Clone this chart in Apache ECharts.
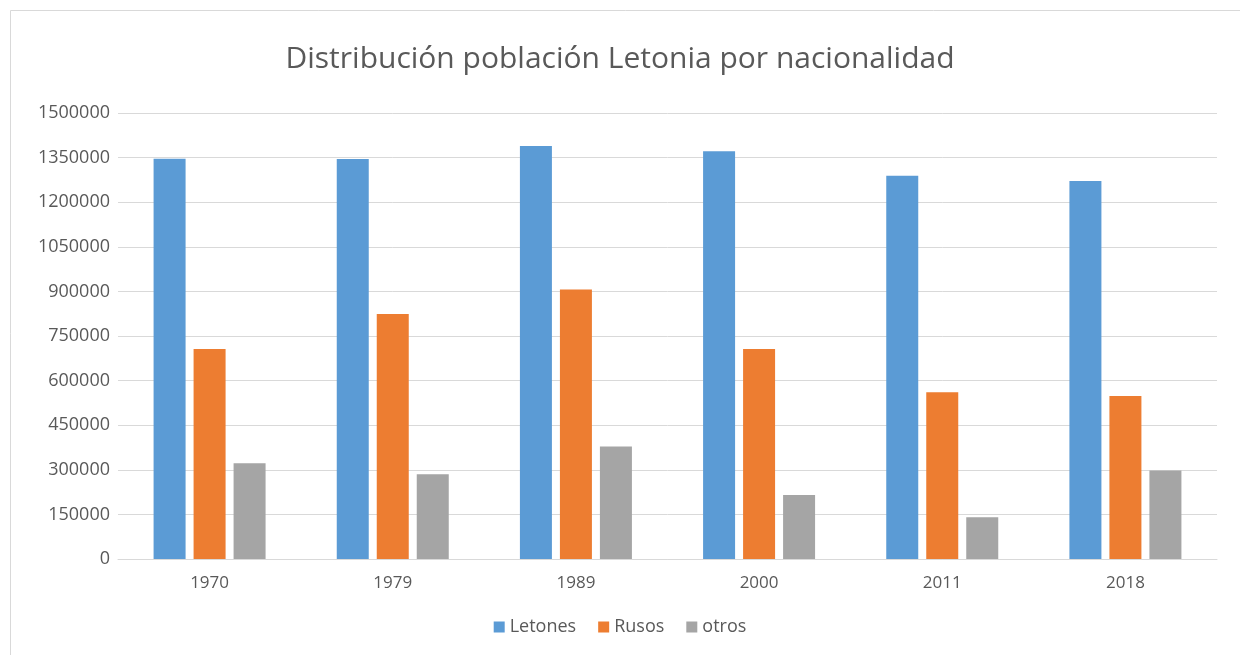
<!DOCTYPE html>
<html>
<head>
<meta charset="utf-8">
<script src="https://cdn.jsdelivr.net/npm/echarts@6/dist/echarts.min.js"></script>
<style>
  html, body { margin: 0; padding: 0; background: #fff; }
  #main { width: 1240px; height: 655px; }
</style>
</head>
<body>
<div id="main"></div>
<script>
var years = ['1970', '1979', '1989', '2000', '2011', '2018'];
var letones = [1346000, 1345000, 1389000, 1371000, 1289000, 1271000];
var rusos = [706000, 824000, 906000, 706000, 561000, 548000];
var otros = [322000, 285000, 378000, 215000, 140000, 298000];

var myChart = echarts.init(document.getElementById('main'));

var textColor = '#595959';
var font = '"Open Sans", "Liberation Sans", sans-serif';

var option = {
    backgroundColor: '#fff',
    animation: false,
    title: {
        text: 'Distribución población Letonia por nacionalidad',
        left: 'center',
        top: 39,
        textStyle: { color: textColor, fontSize: 30, fontWeight: 'normal', fontFamily: font }
    },
    legend: {
        data: ['Letones', 'Rusos', 'otros'],
        bottom: 14,
        left: 'center',
        itemWidth: 11,
        itemHeight: 11,
        itemGap: 22,
        icon: 'rect',
        textStyle: { color: textColor, fontSize: 18, fontFamily: font }
    },
    grid: { left: 118, right: 23, top: 113, bottom: 96 },
    xAxis: {
        type: 'category',
        data: years,
        axisLine: { lineStyle: { color: '#d9d9d9' } },
        axisTick: { show: false },
        axisLabel: { color: textColor, fontSize: 17, fontFamily: font, margin: 16 }
    },
    yAxis: {
        type: 'value',
        min: 0,
        max: 1500000,
        interval: 150000,
        axisLine: { show: false },
        axisTick: { show: false },
        splitLine: { lineStyle: { color: '#d9d9d9', width: 1 } },
        axisLabel: {
            color: textColor, fontSize: 18, fontFamily: font, margin: 8,
            formatter: function(v) { return String(v); }
        }
    },
    series: [
        { name: 'Letones', type: 'bar', data: letones, barWidth: 32, barGap: '25%',
          itemStyle: { color: '#5b9bd5' } },
        { name: 'Rusos', type: 'bar', data: rusos, barWidth: 32, barGap: '25%',
          itemStyle: { color: '#ed7d31' } },
        { name: 'otros', type: 'bar', data: otros, barWidth: 32, barGap: '25%',
          itemStyle: { color: '#a5a5a5' } }
    ],
    graphic: [{
        type: 'rect',
        shape: { x: 10.5, y: 10.5, width: 1240, height: 660 },
        style: { fill: 'none', stroke: '#d9d9d9', lineWidth: 1 }
    }]
};

myChart.setOption(option);
</script>
</body>
</html>
